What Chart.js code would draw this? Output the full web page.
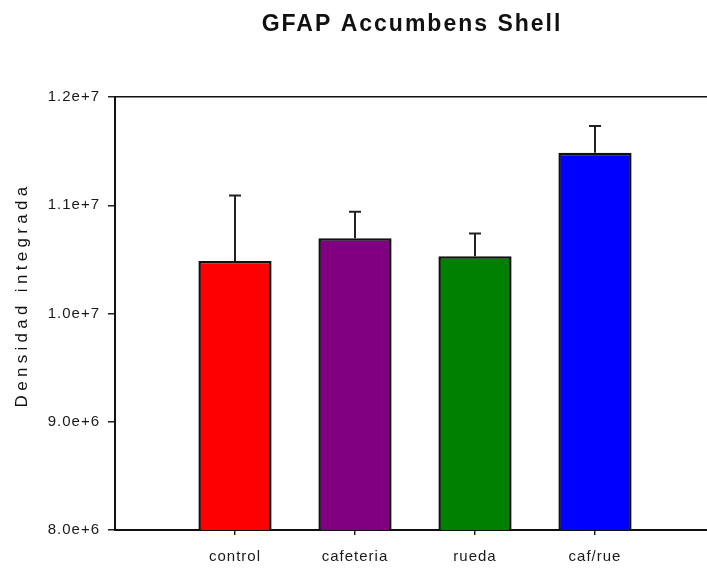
<!DOCTYPE html>
<html>
<head>
<meta charset="utf-8">
<script src="https://cdn.jsdelivr.net/npm/chart.js@4.4.1/dist/chart.umd.min.js"></script>
<style>
  html, body { margin: 0; padding: 0; background: #fff; overflow: hidden; }
  canvas { display: block; }
</style>
</head>
<body>
<canvas id="chart" width="720" height="570"></canvas>
<script>
const groups = ["control", "cafeteria", "rueda", "caf/rue"];
const means = [10485000, 10695000, 10530000, 11485000];
const errors = [605000, 245000, 210000, 247000];
const barColors = ["#ff0000", "#800080", "#008000", "#0000ff"];
const yTicks = [8e6, 9e6, 1e7, 1.1e7, 1.2e7];

const titleText = "GFAP Accumbens Shell";
const yTitleText = "Densidad integrada";

// bars sit at x = 1..4 on a linear axis that runs past the last group
const points = means.map((m, i) => ({ x: i + 1, y: m }));

const textPlugin = {
  id: "textPlugin",
  beforeDraw(chart) {
    chart.ctx.letterSpacing = "1px";
  },
  afterDraw(chart) {
    const ctx = chart.ctx;
    ctx.save();
    ctx.fillStyle = "#111";
    ctx.font = "bold 23px Arial, 'Liberation Sans', sans-serif";
    ctx.letterSpacing = "2px";
    ctx.textAlign = "center";
    ctx.textBaseline = "alphabetic";
    ctx.fillText(titleText, 412, 31);

    ctx.font = "17px Arial, 'Liberation Sans', sans-serif";
    ctx.letterSpacing = "4.3px";
    ctx.translate(27, 295);
    ctx.rotate(-Math.PI / 2);
    ctx.fillText(yTitleText, 0, 0);
    ctx.restore();
  }
};

const errorBars = {
  id: "errorBars",
  afterDatasetsDraw(chart) {
    const ctx = chart.ctx;
    const y = chart.scales.y;
    const meta = chart.getDatasetMeta(0);
    ctx.save();
    ctx.strokeStyle = "#222";
    ctx.lineWidth = 2;
    meta.data.forEach((bar, i) => {
      const top = y.getPixelForValue(means[i] + errors[i]);
      ctx.beginPath();
      ctx.moveTo(bar.x, bar.y);
      ctx.lineTo(bar.x, top);
      ctx.moveTo(bar.x - 6, top);
      ctx.lineTo(bar.x + 6, top);
      ctx.stroke();
    });
    ctx.restore();
  }
};

new Chart(document.getElementById("chart"), {
  type: "bar",
  data: {
    datasets: [{
      data: points,
      backgroundColor: barColors,
      borderColor: "#111",
      borderWidth: 2.5,
      borderSkipped: false,
      barPercentage: 0.61,
      categoryPercentage: 1
    }]
  },
  options: {
    responsive: false,
    devicePixelRatio: 1,
    animation: false,
    layout: { padding: { top: 97, left: 40, right: 5, bottom: 0 } },
    plugins: {
      legend: { display: false },
      tooltip: { enabled: false },
      title: { display: false }
    },
    scales: {
      x: {
        type: "linear",
        position: "bottom",
        offset: false,
        min: 0,
        max: 5,
        afterBuildTicks: (s) => { s.ticks = groups.map((g, i) => ({ value: i + 1 })); },
        afterFit: (s) => { s.height = 40; },
        ticks: {
          callback: (v) => groups[v - 1],
          color: "#1a1a1a",
          padding: 13,
          maxRotation: 0,
          font: { family: "Arial, 'Liberation Sans', sans-serif", size: 15 }
        },
        grid: { offset: false, drawOnChartArea: false, tickLength: 5, color: "#222", lineWidth: 1.5 },
        border: { color: "#111", width: 2 }
      },
      top: {
        type: "linear",
        position: "top",
        offset: false,
        min: 0,
        max: 5,
        afterFit: (s) => { s.height = 0; },
        ticks: { display: false },
        grid: { drawOnChartArea: false, drawTicks: false },
        border: { color: "#111", width: 1.5 }
      },
      y: {
        min: 8e6,
        max: 1.2e7,
        afterBuildTicks: (s) => { s.ticks = yTicks.map((v) => ({ value: v })); },
        afterFit: (s) => { s.width = 75; },
        ticks: {
          callback: (v) => v.toExponential(1),
          color: "#1a1a1a",
          padding: 8,
          font: { family: "Arial, 'Liberation Sans', sans-serif", size: 15 }
        },
        grid: { drawOnChartArea: false, tickLength: 7, color: "#222", lineWidth: 1.5 },
        border: { color: "#111", width: 2 }
      }
    }
  },
  plugins: [textPlugin, errorBars]
});
</script>
</body>
</html>
